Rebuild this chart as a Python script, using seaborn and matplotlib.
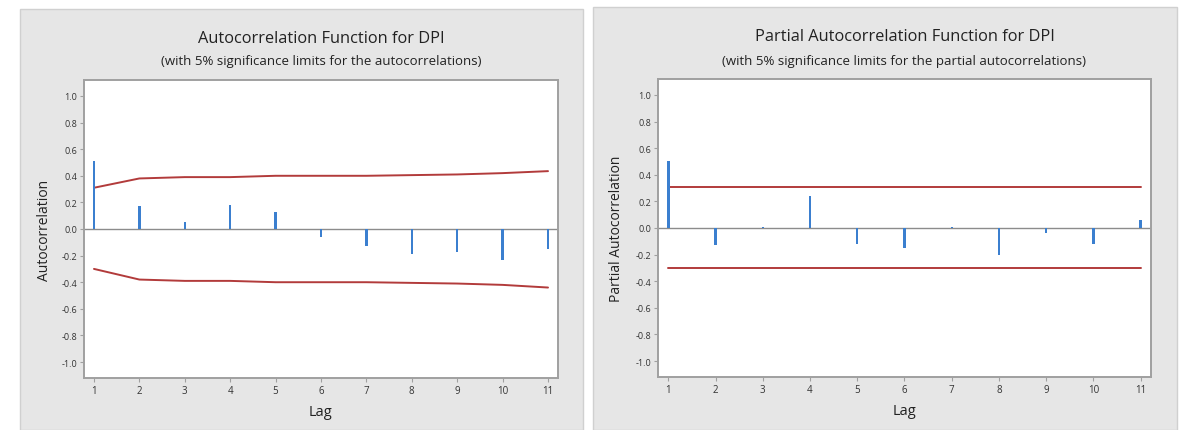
import numpy as np
import pandas as pd
import matplotlib
matplotlib.use("Agg")
import matplotlib.pyplot as plt
from matplotlib.patches import Rectangle
import seaborn as sns

# ---- data ----
lags = [1, 2, 3, 4, 5, 6, 7, 8, 9, 10, 11]
acf_vals = [0.51, 0.17, 0.05, 0.18, 0.125, -0.06, -0.13, -0.19, -0.175, -0.23, -0.15]
acf_upper = [0.31, 0.38, 0.39, 0.39, 0.40, 0.40, 0.40, 0.405, 0.41, 0.42, 0.435]
acf_lower = [-0.30, -0.38, -0.39, -0.39, -0.40, -0.40, -0.40, -0.405, -0.41, -0.42, -0.44]
pacf_vals = [0.505, -0.13, 0.01, 0.24, -0.12, -0.15, 0.01, -0.20, -0.04, -0.12, 0.06]
pacf_upper = [0.31] * 11
pacf_lower = [-0.30] * 11
yticks = [1.0, 0.8, 0.6, 0.4, 0.2, 0.0, -0.2, -0.4, -0.6, -0.8, -1.0]
ytick_labels = ["1.0", "0.8", "0.6", "0.4", "0.2", "0.0", "-0.2", "-0.4", "-0.6", "-0.8", "-1.0"]
titles = ["Autocorrelation Function for DPI", "Partial Autocorrelation Function for DPI"]
subtitles = ["(with 5% significance limits for the autocorrelations)",
             "(with 5% significance limits for the partial autocorrelations)"]
ylabels = ["Autocorrelation", "Partial Autocorrelation"]

sns.set_theme(style="white")
plt.rcParams['font.family'] = ['Open Sans', 'DejaVu Sans']

W, H = 1185, 431
fig = plt.figure(figsize=(W / 100, H / 100), dpi=100)
fig.patch.set_facecolor("white")

BLUE = "#3b7fcf"
RED = "#b23b3b"
PANEL = "#e6e6e6"
SPINE = "#a0a0a0"

panels = [(20, 10, 563, 421), (593, 8, 584, 423)]
for (px, py, pw, ph) in panels:
    fig.patches.append(Rectangle((px / W, 1 - (py + ph) / H), pw / W, ph / H,
                                 transform=fig.transFigure, facecolor=PANEL,
                                 edgecolor="#d0d0d0", linewidth=1, zorder=-5))

axes_px = [(84, 81, 474, 298), (658, 80, 493, 298)]
title_y = [39, 37]
sub_y = [62, 61]
lag_y = [413, 412]
ylab_x = [44, 616]

datasets = [(acf_vals, acf_upper, acf_lower), (pacf_vals, pacf_upper, pacf_lower)]

for i, (axp, (vals, up, lo)) in enumerate(zip(axes_px, datasets)):
    x0, y0, w, h = axp
    ax = fig.add_axes([x0 / W, 1 - (y0 + h) / H, w / W, h / H], zorder=2)
    ax.set_facecolor("white")
    df = pd.DataFrame({"Lag": lags, "val": vals, "up": up, "lo": lo})
    ax.axhline(0, color="#8c8c8c", linewidth=1.0, zorder=1)
    sns.barplot(data=df, x="Lag", y="val", native_scale=True, width=0.05,
                color=BLUE, saturation=1, linewidth=0, ax=ax, zorder=3)
    sns.lineplot(data=df, x="Lag", y="up", color=RED, linewidth=1.4, ax=ax, zorder=2)
    sns.lineplot(data=df, x="Lag", y="lo", color=RED, linewidth=1.4, ax=ax, zorder=2)
    ax.set_xlim(0.78, 11.22)
    ax.set_ylim(-1.12, 1.12)
    ax.set_xticks(lags)
    ax.set_xticklabels([str(l) for l in lags], fontsize=7, color="#333333")
    ax.set_yticks(yticks)
    ax.set_yticklabels(ytick_labels, fontsize=6.5, color="#333333")
    ax.tick_params(axis="both", which="both", direction="out", length=3, width=0.8,
                   color=SPINE, pad=2, left=True, bottom=True)
    for s in ax.spines.values():
        s.set_color(SPINE)
        s.set_linewidth(1.4)
    ax.set_xlabel("")
    ax.set_ylabel("")
    cx = (x0 + w / 2) / W
    fig.text(cx, 1 - title_y[i] / H, titles[i], ha="center", va="center",
             fontsize=11.8, color="#222222")
    fig.text(cx, 1 - sub_y[i] / H, subtitles[i], ha="center", va="center",
             fontsize=9.5, color="#222222")
    fig.text(cx, 1 - lag_y[i] / H, "Lag", ha="center", va="center",
             fontsize=10.5, color="#222222")
    fig.text(ylab_x[i] / W, 1 - (y0 + h / 2) / H, ylabels[i], ha="center", va="center",
             rotation=90, fontsize=10, color="#222222")

fig.savefig("out.png", dpi=100)
